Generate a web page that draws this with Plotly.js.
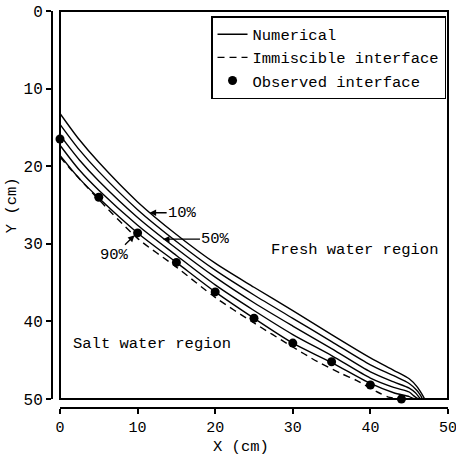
<!DOCTYPE html>
<html>
<head>
<meta charset="utf-8">
<script src="https://cdn.plot.ly/plotly-3.0.1.min.js"></script>
<style>html,body{margin:0;padding:0;background:#fff;}#chart{width:456px;height:457px;}</style>
</head>
<body>
<div id="chart"></div>
<script>
// Numerical concentration contours (x in cm, y depth in cm)
const curveLabels = ["10%", "30%", "50%", "70%", "90%"];
const num10x = [0, 2.5, 5, 10, 15, 20, 25, 30, 35, 40, 43, 45, 46, 46.6, 47.0];
const num10y = [13.2, 16.6, 19.5, 24.6, 28.8, 32.5, 35.6, 38.6, 41.7, 44.7, 46.3, 47.4, 48.4, 49.3, 50];
const num30x = [0, 2.5, 5, 10, 15, 20, 25, 30, 35, 40, 43, 45, 46, 46.5, 46.7];
const num30y = [14.6, 17.9, 20.7, 25.6, 29.7, 33.4, 36.6, 39.6, 42.6, 45.6, 47.0, 48.0, 48.9, 49.6, 50];
const num50x = [0, 2.5, 5, 10, 15, 20, 25, 30, 35, 40, 43, 45, 45.8, 46.3, 46.5];
const num50y = [16.0, 19.2, 21.9, 26.6, 30.6, 34.3, 37.6, 40.6, 43.5, 46.5, 47.8, 48.6, 49.2, 49.8, 50];
const num70x = [0, 2.5, 5, 10, 15, 20, 25, 30, 35, 40, 43, 45, 45.6, 46.0, 46.2];
const num70y = [17.3, 20.5, 23.1, 27.6, 31.5, 35.3, 38.6, 41.7, 44.4, 47.3, 48.5, 49.1, 49.6, 49.9, 50];
const num90x = [0, 2.5, 5, 10, 15, 20, 25, 30, 35, 40, 43, 45, 45.5, 45.9];
const num90y = [18.6, 21.6, 24.1, 28.6, 32.4, 36.2, 39.6, 42.8, 45.3, 48.0, 49.2, 49.7, 49.93, 50];
// Immiscible (sharp) interface
const immX = [0, 1.2, 2.3, 3.4, 5, 10, 15, 20, 25, 30, 33.2, 36.2, 38.2, 40.9, 42.5, 44];
const immY = [18.8, 20.2, 21.4, 22.6, 24.3, 29.3, 33.0, 36.9, 40.2, 43.3, 45.2, 46.7, 47.6, 49.1, 49.8, 50.0];
// Observed interface
const obsX = [0, 5, 10, 15, 20, 25, 30, 35, 40, 44];
const obsY = [16.5, 24.0, 28.6, 32.4, 36.2, 39.6, 42.8, 45.2, 48.2, 50.0];
const tickVals = [0, 10, 20, 30, 40, 50];
const axisRange = [0, 50];

const FONT = "'Courier New', 'Liberation Mono', Courier, monospace";
const numX = [num10x, num30x, num50x, num70x, num90x];
const numY = [num10y, num30y, num50y, num70y, num90y];

const traces = [];
numX.forEach((xs, i) => {
  traces.push({
    x: xs, y: numY[i], type: "scatter", mode: "lines",
    name: "Numerical", showlegend: i === 0,
    line: {color: "#000", width: 1.4, shape: "spline", smoothing: 0.8},
    hoverinfo: "skip", cliponaxis: false
  });
});
traces.push({
  x: immX, y: immY, type: "scatter", mode: "lines",
  name: "Immiscible interface",
  line: {color: "#000", width: 1.4, dash: "7px,5px", shape: "spline", smoothing: 0.8},
  cliponaxis: false
});
traces.push({
  x: obsX, y: obsY, type: "scatter", mode: "markers",
  name: "Observed interface",
  marker: {color: "#000", size: 9},
  cliponaxis: false
});

const tipIdx = {p10: 0, p50: 2, p90: 4};
const layout = {
  width: 456, height: 457,
  margin: {l: 52, r: 8, t: 11, b: 49, pad: 0},
  paper_bgcolor: "#fff", plot_bgcolor: "#fff",
  font: {family: FONT, size: 15, color: "#000"},
  showlegend: true,
  legend: {
    x: 0.995, y: 0.987, xanchor: "right", yanchor: "top",
    bgcolor: "#fff", bordercolor: "#000", borderwidth: 1.5,
    font: {family: FONT, size: 15.5, color: "#000"},
    traceorder: "normal", itemwidth: 30, tracegroupgap: 0
  },
  xaxis: {
    range: axisRange, domain: [0.0202, 1], anchor: "free", position: 0, side: "bottom",
    tickvals: tickVals, ticks: "outside", ticklen: 5, tickwidth: 2, tickcolor: "#000",
    showline: true, linewidth: 2, linecolor: "#000",
    showgrid: false, zeroline: false, ticklabeloverflow: "allow",
    tickfont: {family: FONT, size: 15, color: "#000"}
  },
  yaxis: {
    range: [axisRange[1], axisRange[0]], domain: [0.0227, 1], anchor: "free", position: 0, side: "left",
    tickvals: tickVals, ticks: "outside", ticklen: 5, tickwidth: 2, tickcolor: "#000",
    showline: true, linewidth: 2, linecolor: "#000",
    showgrid: false, zeroline: false, ticklabeloverflow: "allow",
    tickfont: {family: FONT, size: 16, color: "#000"}
  },
  shapes: [
    {type: "rect", xref: "x domain", yref: "y domain", x0: 0, x1: 1, y0: 0, y1: 1,
     line: {color: "#000", width: 2}, fillcolor: "rgba(0,0,0,0)", layer: "above"}
  ],
  annotations: [
    {xref: "paper", yref: "paper", x: 0.477, y: -0.097, text: "X (cm)", showarrow: false,
     font: {family: FONT, size: 15.5}, xanchor: "center", yanchor: "middle"},
    {xref: "paper", yref: "paper", x: -0.101, y: 0.511, text: "Y (cm)", showarrow: false, textangle: -90,
     font: {family: FONT, size: 15.5}, xanchor: "center", yanchor: "middle"},
    {xref: "x", yref: "y", x: 38.0, y: 30.8, text: "Fresh water region", showarrow: false,
     font: {family: FONT, size: 15.5}},
    {xref: "x", yref: "y", x: 11.8, y: 42.9, text: "Salt water region", showarrow: false,
     font: {family: FONT, size: 15.5}},
    {xref: "x", yref: "y", x: 11.55, y: 26.0, text: curveLabels[tipIdx.p10], showarrow: true,
     ax: 33, ay: 0, arrowhead: 2, arrowsize: 1, arrowwidth: 1.3, arrowcolor: "#000", standoff: 0,
     font: {family: FONT, size: 15.5}},
    {xref: "x", yref: "y", x: 13.27, y: 29.4, text: curveLabels[tipIdx.p50], showarrow: true,
     ax: 53, ay: 0, arrowhead: 2, arrowsize: 1, arrowwidth: 1.3, arrowcolor: "#000", standoff: 0,
     font: {family: FONT, size: 15.5}},
    {xref: "x", yref: "y", x: 9.6, y: 28.9, text: curveLabels[tipIdx.p90], showarrow: true,
     ax: -20, ay: 20, arrowhead: 2, arrowsize: 1, arrowwidth: 1.3, arrowcolor: "#000", standoff: 0,
     font: {family: FONT, size: 15.5}}
  ]
};

Plotly.newPlot("chart", traces, layout, {staticPlot: true, displayModeBar: false});
</script>
</body>
</html>
